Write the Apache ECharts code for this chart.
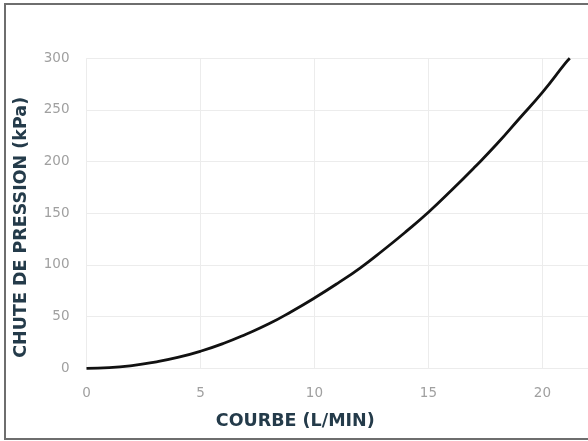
<!DOCTYPE html>
<html>
<head>
<meta charset="utf-8">
<script src="https://cdn.jsdelivr.net/npm/echarts@6/dist/echarts.min.js"></script>
<style>
html,body{margin:0;padding:0;background:#fff;overflow:hidden;}
#frame{position:absolute;left:4px;top:3px;width:620px;height:433px;border:2px solid #6e6e6e;box-sizing:content-box;}
#chart{position:absolute;left:0;top:0;width:588px;height:441px;}
</style>
</head>
<body>
<div id="frame"></div>
<div id="chart"></div>
<script>
// Flow (L/min) and pressure drop (kPa)
const flow = [0, 1, 2, 3, 4, 5, 6, 7, 8, 9, 10, 11, 12, 13, 14, 15, 16, 17, 18, 19, 20, 21, 21.2];
const pressure = [0, 0.6, 2.6, 6, 10.5, 16.5, 24, 33, 43, 55, 68, 82, 97, 114, 132, 151, 172, 194, 217, 242, 267, 295, 300];
const xTitle = 'COURBE (L/MIN)';
const yTitle = 'CHUTE DE PRESSION (kPa)';

const chart = echarts.init(document.getElementById('chart'), null, {renderer: 'canvas'});
const titleColor = '#243b4a';
const labelColor = '#a0a0a0';
const gridColor = '#ececec';

chart.setOption({
  backgroundColor: 'transparent',
  animation: false,
  grid: {left: 86.5, top: 58.3, bottom: 72.7, right: -7.5, containLabel: false},
  xAxis: {
    type: 'value',
    min: 0, max: 22, interval: 5,
    name: xTitle,
    nameLocation: 'middle',
    nameGap: 44,
    nameTextStyle: {color: titleColor, fontSize: 17.5, fontFamily: 'DejaVu Sans', fontWeight: 'bold', padding: [0, 84, 0, 0]},
    axisLine: {show: false},
    axisTick: {show: false},
    axisLabel: {color: labelColor, fontSize: 13.5, fontFamily: 'DejaVu Sans', margin: 18, showMaxLabel: false},
    splitLine: {show: true, lineStyle: {color: gridColor, width: 1}}
  },
  yAxis: {
    type: 'value',
    min: 0, max: 300, interval: 50,
    name: yTitle,
    nameLocation: 'middle',
    nameGap: 56,
    nameTextStyle: {color: titleColor, fontSize: 17.5, fontFamily: 'DejaVu Sans', fontWeight: 'bold', padding: [0, 28, 0, 0]},
    axisLine: {show: false},
    axisTick: {show: false},
    axisLabel: {color: labelColor, fontSize: 13.5, fontFamily: 'DejaVu Sans', margin: 17},
    splitLine: {show: true, lineStyle: {color: gridColor, width: 1}}
  },
  series: [{
    type: 'line',
    data: flow.map((q, i) => [q, pressure[i]]),
    smooth: true,
    showSymbol: false,
    lineStyle: {color: '#111', width: 2.8},
    clip: false
  }]
});
</script>
</body>
</html>
